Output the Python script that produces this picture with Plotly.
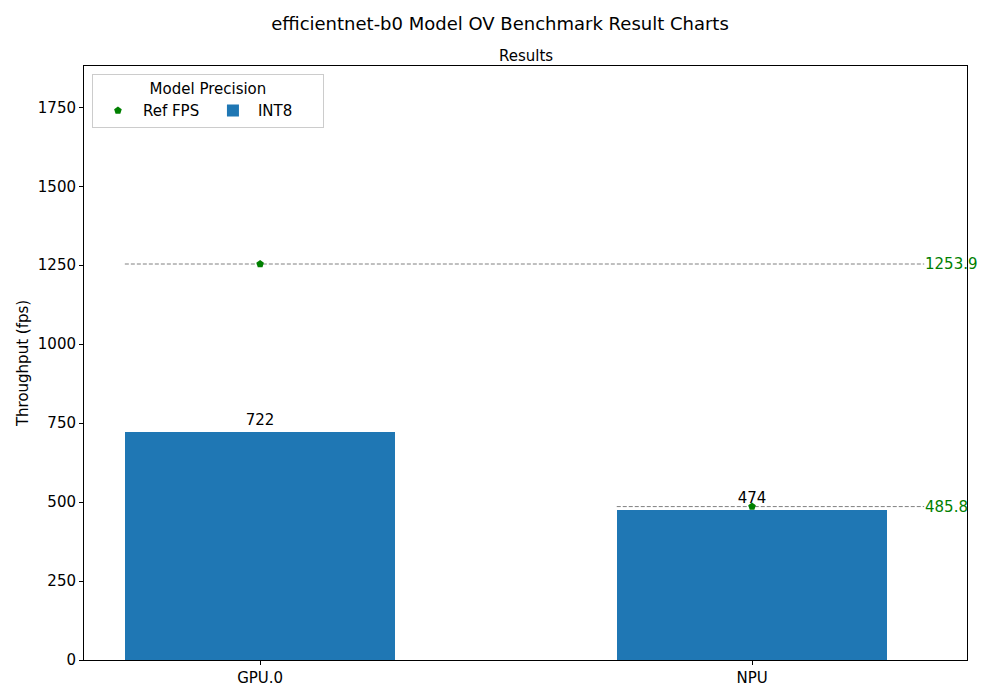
import plotly.graph_objects as go

# values
devices = ["GPU.0", "NPU"]
int8_fps = [722, 474]
ref_fps = [1253.9, 485.8]

BAR_BLUE = "#1f77b4"
BAR_WIDTH = 0.55
LINE_END = 1.35  # right end of the reference lines, in category units
FS = 15

xpos = list(range(len(devices)))
ymax = max(ref_fps) * 1.5

fig = go.Figure()

# dashed reference lines from each bar's left edge out to the label
for i, v in zip(xpos, ref_fps):
    fig.add_trace(go.Scatter(
        x=[i - BAR_WIDTH / 2, LINE_END], y=[v, v], mode="lines",
        line=dict(color="gray", width=1, dash="4px,2px"),
        showlegend=False, hoverinfo="skip",
    ))
    fig.add_annotation(
        x=LINE_END, y=v, text=f"{v:.1f}", showarrow=False,
        xanchor="left", xshift=-1, font=dict(color="green", size=FS),
    )

fig.add_trace(go.Bar(
    x=xpos, y=int8_fps, width=BAR_WIDTH, name="INT8",
    marker=dict(color=BAR_BLUE, line=dict(width=0)),
    text=[str(v) for v in int8_fps], textposition="outside",
    textfont=dict(color="black", size=FS), cliponaxis=False,
    legendrank=2,
))

fig.add_trace(go.Scatter(
    x=xpos, y=ref_fps, mode="markers", name="Ref FPS",
    marker=dict(symbol="pentagon", color="green", size=8),
    legendrank=1,
))

axis_common = dict(
    showgrid=False, zeroline=False, showline=True, linecolor="black",
    linewidth=1, mirror=True, ticks="outside", ticklen=4,
    tickcolor="black", tickfont=dict(size=FS, color="black"),
)

# the page body adds 8px, so margins are shifted to land the axes in place
fig.update_layout(
    width=1000, height=700,
    paper_bgcolor="white", plot_bgcolor="white",
    font=dict(family="DejaVu Sans", color="black", size=FS),
    margin=dict(l=76, r=41, t=58, b=48),
    bargap=0,
    title=dict(
        text="efficientnet-b0 Model OV Benchmark Result Charts",
        x=0.492, xanchor="center", y=0.978, yanchor="middle",
        font=dict(size=18),
    ),
    xaxis=dict(
        range=[-0.358, 1.437], tickvals=xpos, ticktext=devices, **axis_common,
    ),
    yaxis=dict(
        range=[0, ymax], tickvals=[0, 250, 500, 750, 1000, 1250, 1500, 1750],
        title=dict(text="Throughput (fps)", font=dict(size=FS), standoff=5),
        **axis_common,
    ),
    legend=dict(
        title=dict(text="Model Precision", side="top center", font=dict(size=FS)),
        orientation="h", x=0.009, y=0.987, xanchor="left", yanchor="top",
        bgcolor="white", bordercolor="#cccccc", borderwidth=1,
        font=dict(size=FS), entrywidth=60, itemwidth=40,
    ),
    annotations=list(fig.layout.annotations) + [
        dict(text="Results", x=0.5, y=1, xref="paper", yref="paper",
             xanchor="center", yanchor="bottom", yshift=-1, showarrow=False,
             font=dict(size=FS)),
    ],
)

fig.write_html("out.html")
